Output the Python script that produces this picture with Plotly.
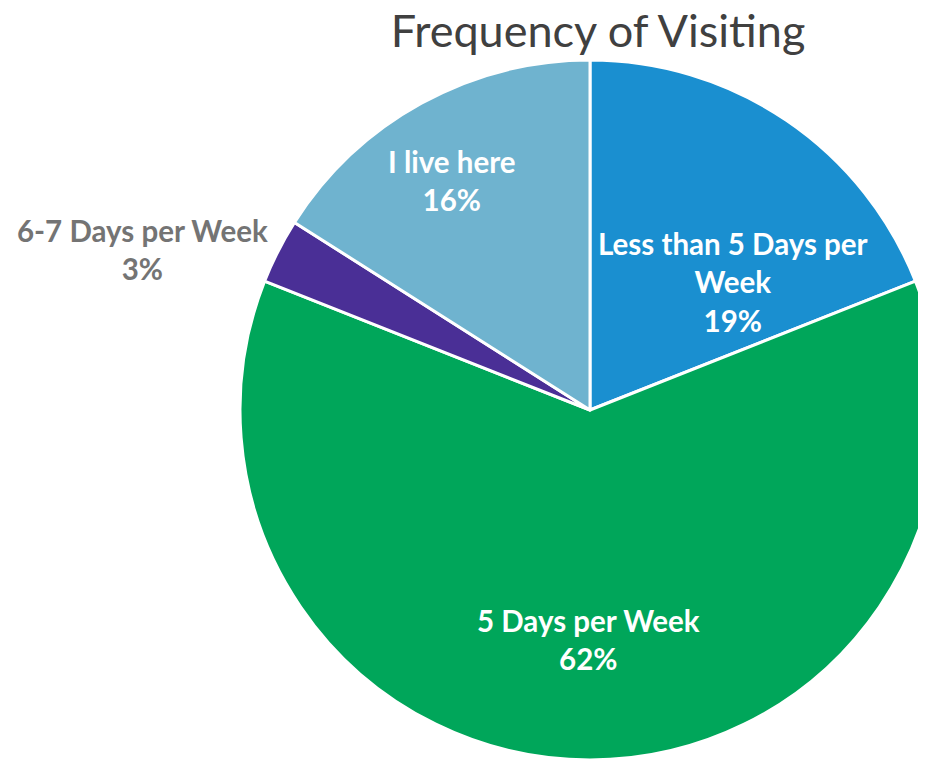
import plotly.graph_objects as go

categories = ["Less than 5 Days per Week", "5 Days per Week", "6-7 Days per Week", "I live here"]
values = [19, 62, 3, 16]
colors = ["#1a8fd0", "#00a65a", "#4a2f96", "#6fb3cf"]
label_texts = ["Less than 5 Days per<br>Week<br>19%", "5 Days per Week<br>62%",
               "6-7 Days per Week<br>3%", "I live here<br>16%"]
label_colors = ["white", "white", "#747474", "white"]
# label centres in page pixels
label_px = [(733, 282), (588, 639), (142, 250), (451, 180)]

W, H = 950, 770
L, T, PW = 232, 52, 700
OFF = 8  # page body margin

fig = go.Figure(go.Pie(
    labels=categories, values=values, sort=False, direction="clockwise",
    rotation=0, marker=dict(colors=colors, line=dict(color="white", width=3)),
    textinfo="none", hoverinfo="label+percent", showlegend=False,
    domain=dict(x=[0, 1], y=[0, 1]),
))

for t, c, (px, py) in zip(label_texts, label_colors, label_px):
    fig.add_annotation(x=(px - OFF - L) / PW, y=1 - (py - OFF - T) / PW, xref="paper", yref="paper",
                       text="<b>" + t + "</b>", showarrow=False,
                       font=dict(family="Lato", size=29.5, color=c),
                       align="center", xanchor="center", yanchor="middle")

fig.update_layout(
    width=W, height=H,
    margin=dict(l=L, r=W - L - PW, t=T, b=H - T - PW),
    paper_bgcolor="white",
    title=dict(text="Frequency of Visiting", x=(598 - OFF) / W, xanchor="center",
               y=1 - (31 - OFF) / H, yanchor="middle",
               font=dict(family="Lato", size=45, color="#404040")),
)
fig.write_html("out.html")
